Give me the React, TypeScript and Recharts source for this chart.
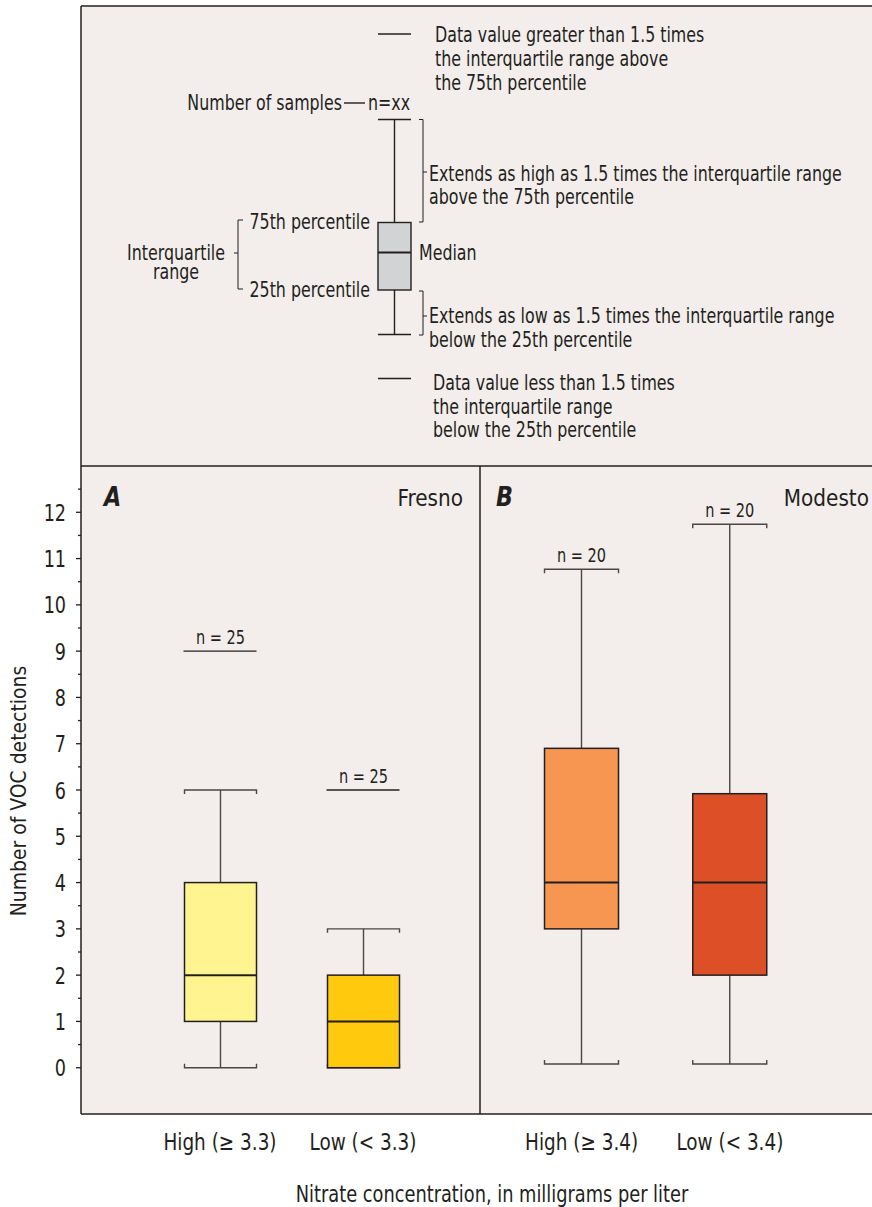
import React from "react";
import { ComposedChart, Bar, Cell, XAxis, YAxis } from "recharts";

// Box-plot statistics, number of VOC detections per well
const fresnoGroups = ["High (≥ 3.3)", "Low (< 3.3)"];
const fresnoStats = [
  { low: 0, q1: 1, median: 2, q3: 4, high: 6, outlier: 9, n: 25 },
  { low: 0, q1: 0, median: 1, q3: 2, high: 3, outlier: 6, n: 25 },
];
const modestoGroups = ["High (≥ 3.4)", "Low (< 3.4)"];
const modestoStats = [
  { low: 0.08, q1: 3, median: 4, q3: 6.9, high: 10.77, outlier: null, n: 20 },
  { low: 0.08, q1: 2, median: 4, q3: 5.92, high: 11.74, outlier: null, n: 20 },
];

const yMajor = [0, 1, 2, 3, 4, 5, 6, 7, 8, 9, 10, 11, 12];
const yMinor = yMajor.map((v) => v + 0.5);
const yTicks = [...yMajor, ...yMinor].sort((a, b) => a - b);

const fresnoColors = ["#fff48f", "#ffc90e"];
const modestoColors = ["#f79651", "#dd5027"];

const FONT = "'DejaVu Sans Condensed', 'DejaVu Sans', sans-serif";
const INK = "#231f20";
const BG = "#f3eeeb";

const fresnoData = fresnoGroups.map((group, i) => ({ group, ...fresnoStats[i] }));
const modestoData = modestoGroups.map((group, i) => ({ group, ...modestoStats[i] }));

// condensed text: squeeze the glyphs horizontally around the anchor point
const T = ({ x, y, sx = 0.8, size = 22, anchor = "start", weight, italic, children }: any) => (
  <text
    transform={`translate(${x},${y}) scale(${sx},1)`}
    textAnchor={anchor}
    fontSize={size}
    fontFamily={FONT}
    fontWeight={weight}
    fontStyle={italic ? "italic" : undefined}
    fill={INK}
  >
    {children}
  </text>
);

// bar spans whisker bottom to the highest drawn value
const rangeKey = (d: any) => [d.low, d.outlier ?? d.high];

const BoxShape = (props: any) => {
  const { x, y, width, height, fill } = props;
  const d = props.payload ?? props;
  const top = d.outlier ?? d.high;
  const k = height / (top - d.low);
  const yOf = (v: number) => y + (top - v) * k;
  const cx = x + width / 2;
  const yHigh = yOf(d.high);
  const yLow = yOf(d.low);
  const yQ3 = yOf(d.q3);
  const yQ1 = yOf(d.q1);
  const yMed = yOf(d.median);
  const whisker = { stroke: "#4a4647", strokeWidth: 1.4 };
  return (
    <g>
      <line x1={cx} x2={cx} y1={yHigh} y2={yQ3} {...whisker} />
      <line x1={cx} x2={cx} y1={yQ1} y2={yLow} {...whisker} />
      <path d={`M${x},${yHigh + 4}V${yHigh}H${x + width}V${yHigh + 4}`} fill="none" {...whisker} />
      <path d={`M${x},${yLow - 4}V${yLow}H${x + width}V${yLow - 4}`} fill="none" {...whisker} />
      <rect x={x} y={yQ3} width={width} height={yQ1 - yQ3} fill={fill} stroke={INK} strokeWidth={1.5} />
      <line x1={x} x2={x + width} y1={yMed} y2={yMed} stroke={INK} strokeWidth={2} />
      {d.outlier != null && (
        <line x1={x - 1} x2={x + width} y1={yOf(d.outlier)} y2={yOf(d.outlier)} stroke={INK} strokeWidth={1.4} />
      )}
      <T x={cx} y={yOf(top) - 7} anchor="middle" size={19} sx={0.85}>{`n = ${d.n}`}</T>
    </g>
  );
};

const YTick = (props: any) => {
  const { x, y, payload } = props;
  const major = Number.isInteger(payload.value);
  return (
    <g>
      <line x1={x - (major ? 5 : 3)} x2={x} y1={y} y2={y} stroke={INK} strokeWidth={1.3} />
      {major && (
        <T x={x - 15} y={y + 8.5} anchor="end" size={23} sx={0.85}>
          {payload.value}
        </T>
      )}
    </g>
  );
};

const XTick = (props: any) => {
  const { x, y, payload } = props;
  return (
    <T x={x} y={y + 16} anchor="middle" size={23} sx={0.89}>
      {payload.value}
    </T>
  );
};

const ln = { stroke: INK, strokeWidth: 1.4, fill: "none" };

const Explanation = () => (
  <g>
    <line x1={378} x2={411} y1={34} y2={34} {...ln} />
    <T x={435} y={42}>Data value greater than 1.5 times</T>
    <T x={435} y={66}>the interquartile range above</T>
    <T x={435} y={90}>the 75th percentile</T>

    <T x={342} y={110} anchor="end">Number of samples</T>
    <line x1={344} x2={365} y1={103} y2={103} {...ln} />
    <T x={368} y={110}>n=xx</T>

    <line x1={378} x2={411} y1={119.5} y2={119.5} {...ln} />
    <line x1={394.5} x2={394.5} y1={119.5} y2={222.5} {...ln} />
    <rect x={378} y={222.5} width={33} height={67.5} fill="#d1d3d4" stroke={INK} strokeWidth={1.4} />
    <line x1={378} x2={411} y1={252.5} y2={252.5} stroke={INK} strokeWidth={2} />
    <line x1={394.5} x2={394.5} y1={290} y2={334.5} {...ln} />
    <line x1={378} x2={411} y1={334.5} y2={334.5} {...ln} />

    <path d="M419,119.5H423V222H419M423,172H427" {...ln} strokeWidth={1} />
    <T x={429} y={181}>Extends as high as 1.5 times the interquartile range</T>
    <T x={429} y={204}>above the 75th percentile</T>

    <path d="M243,220H238V289H243M238,253H234" {...ln} strokeWidth={1} />
    <T x={370} y={229} anchor="end">75th percentile</T>
    <T x={370} y={297} anchor="end">25th percentile</T>
    <T x={176} y={260} anchor="middle">Interquartile</T>
    <T x={176} y={279} anchor="middle">range</T>
    <T x={419} y={260}>Median</T>

    <path d="M419,291H423V335H419M423,316H427" {...ln} strokeWidth={1} />
    <T x={429} y={323}>Extends as low as 1.5 times the interquartile range</T>
    <T x={429} y={347}>below the 25th percentile</T>

    <line x1={378} x2={411} y1={378.5} y2={378.5} {...ln} />
    <T x={433} y={390}>Data value less than 1.5 times</T>
    <T x={433} y={414}>the interquartile range</T>
    <T x={433} y={437}>below the 25th percentile</T>
  </g>
);

export default function App() {
  return (
    <div style={{ position: "absolute", left: 0, top: 0, width: 872, height: 1207, background: "#fff" }}>
      <svg width={872} height={1207} style={{ position: "absolute", left: 0, top: 0 }}>
        <rect x={81} y={6} width={791} height={1108} fill={BG} />
        <line x1={81} x2={872} y1={6} y2={6} stroke={INK} strokeWidth={1.5} />
        <line x1={81} x2={81} y1={6} y2={466} stroke={INK} strokeWidth={1.5} />
        <line x1={81} x2={872} y1={466} y2={466} stroke={INK} strokeWidth={1.5} />
        <line x1={480} x2={480} y1={466} y2={1114} stroke={INK} strokeWidth={1.5} />
        <Explanation />

        <T x={104} y={506} size={26} sx={0.95} weight="bold" italic>A</T>
        <T x={463} y={506} size={23} sx={0.97} anchor="end">Fresno</T>
        <T x={496} y={506} size={26} sx={0.95} weight="bold" italic>B</T>
        <T x={869} y={506} size={23} sx={0.97} anchor="end">Modesto</T>

        <text
          transform="translate(26,791) rotate(-90) scale(0.95,1)"
          textAnchor="middle"
          fontFamily={FONT}
          fontSize={22}
          fill={INK}
        >
          Number of VOC detections
        </text>
        <T x={492} y={1202} anchor="middle" size={23} sx={0.86}>
          Nitrate concentration, in milligrams per liter
        </T>
      </svg>

      <div style={{ position: "absolute", left: 0, top: 466 }}>
        <ComposedChart width={480} height={698} data={fresnoData} margin={{ top: 0, right: 0, bottom: 0, left: 0 }}>
          <XAxis
            dataKey="group"
            padding={{ left: 67.5, right: 45.5 }}
            height={50}
            interval={0}
            tickLine={false}
            tickSize={0}
            tickMargin={20}
            axisLine={{ stroke: INK, strokeWidth: 1.5 }}
            tick={<XTick />}
          />
          <YAxis
            type="number"
            domain={[-1, 13]}
            ticks={yTicks}
            interval={0}
            width={81}
            tickLine={false}
            tickSize={0}
            tickMargin={0}
            axisLine={{ stroke: INK, strokeWidth: 1.5 }}
            tick={<YTick />}
            allowDataOverflow
          />
          <Bar dataKey={rangeKey} barSize={72} shape={<BoxShape />} isAnimationActive={false}>
            {fresnoData.map((_, i) => (
              <Cell key={`f-${i}`} fill={fresnoColors[i]} />
            ))}
          </Bar>
        </ComposedChart>
      </div>

      <div style={{ position: "absolute", left: 480, top: 466 }}>
        <ComposedChart width={392} height={698} data={modestoData} margin={{ top: 0, right: 0, bottom: 0, left: 0 }}>
          <XAxis
            dataKey="group"
            padding={{ left: 27.5, right: 68 }}
            height={50}
            interval={0}
            tickLine={false}
            tickSize={0}
            tickMargin={20}
            axisLine={{ stroke: INK, strokeWidth: 1.5 }}
            tick={<XTick />}
          />
          <YAxis type="number" domain={[-1, 13]} hide allowDataOverflow />
          <Bar dataKey={rangeKey} barSize={74} shape={<BoxShape />} isAnimationActive={false}>
            {modestoData.map((_, i) => (
              <Cell key={`m-${i}`} fill={modestoColors[i]} />
            ))}
          </Bar>
        </ComposedChart>
      </div>
    </div>
  );
}
